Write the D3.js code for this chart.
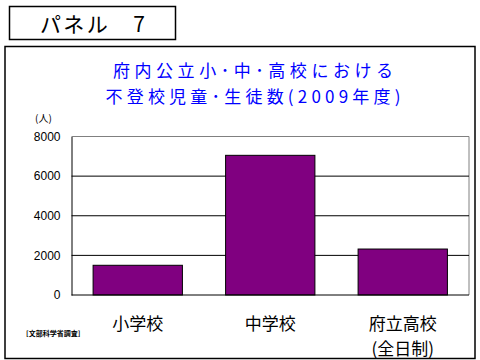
<!DOCTYPE html>
<html><head><meta charset="utf-8">
<script src="https://cdn.jsdelivr.net/npm/d3@7"></script>
<style>body{margin:0;background:#fff}svg{display:block}</style>
</head><body>
<script>
const categories = ["小学校", "中学校", "府立高校"];
const categorySub = ["", "", "(全日制)"];
const values = [1500, 7050, 2320];
const yTicks = [0, 2000, 4000, 6000, 8000];
const titleLines = ["府内公立小･中･高校における", "不登校児童･生徒数(2009年度)"];
const panelLabel = "パネル　7";
const unitLabel = "(人)";
const sourceLabel = "[文部科学省調査]";

const W = 480, H = 360;
const svg = d3.select("body").append("svg").attr("width", W).attr("height", H);
const font = "'Noto Sans CJK JP', sans-serif";

// panel label box
svg.append("rect").attr("x", 9.5).attr("y", 6.5).attr("width", 166).attr("height", 33)
  .attr("fill", "#fff").attr("stroke", "#000").attr("stroke-width", 1.5);
svg.append("text").attr("x", 40).attr("y", 23).attr("dominant-baseline", "central")
  .attr("font-family", font).attr("font-size", 21)
  .attr("textLength", 105).attr("lengthAdjust", "spacing").text(panelLabel);

// outer box
svg.append("rect").attr("x", 5).attr("y", 46.5).attr("width", 470).attr("height", 312)
  .attr("fill", "#fff").attr("stroke", "#000").attr("stroke-width", 1.5);

// title
svg.selectAll("text.title").data(titleLines).join("text").attr("class", "title")
  .attr("x", 253).attr("y", (d, i) => 69 + i * 26).attr("text-anchor", "middle")
  .attr("dominant-baseline", "central").attr("fill", "#0000ff")
  .attr("font-family", font).attr("font-size", 17)
  .attr("textLength", (d, i) => i === 0 ? 280 : 295).attr("lengthAdjust", "spacing")
  .text(d => d);

const m = {left: 71.5, right: 469, top: 136.5, bottom: 295};
const x = d3.scaleBand().domain(categories).range([m.left, m.right]).paddingInner(0.326).paddingOuter(0.163);
const y = d3.scaleLinear().domain([0, 8000]).range([m.bottom, m.top]);

// plot border (gray top/right)
svg.append("path").attr("d", `M${m.left},${m.top}H${m.right}V${m.bottom}`)
  .attr("fill", "none").attr("stroke", "#808080").attr("stroke-width", 1);

// gridlines
svg.selectAll("line.grid").data(yTicks.filter(t => t > 0 && t < 8000)).join("line")
  .attr("x1", m.left).attr("x2", m.right).attr("y1", d => y(d)).attr("y2", d => y(d))
  .attr("stroke", "#000").attr("stroke-width", 1);

// y axis
const yAxis = svg.append("g").attr("transform", `translate(${m.left},0)`)
  .call(d3.axisLeft(y).tickValues(yTicks).tickSize(0).tickPadding(11).tickFormat(d3.format("d")));
yAxis.select(".domain").attr("stroke", "#000");
yAxis.selectAll("text").attr("font-family", "Arial, 'Liberation Sans', sans-serif").attr("font-size", 12).attr("fill", "#000");

// bars
svg.selectAll("rect.bar").data(values).join("rect").attr("class", "bar")
  .attr("x", (d, i) => x(categories[i])).attr("width", x.bandwidth())
  .attr("y", d => y(d)).attr("height", d => y(0) - y(d))
  .attr("fill", "#800080").attr("stroke", "#000").attr("stroke-width", 1);

// x axis line
svg.append("line").attr("x1", m.left).attr("x2", m.right).attr("y1", m.bottom).attr("y2", m.bottom)
  .attr("stroke", "#000").attr("stroke-width", 1);

// category labels
svg.selectAll("text.cat").data(categories).join("text").attr("class", "cat")
  .attr("x", d => x(d) + x.bandwidth() / 2).attr("y", 322).attr("text-anchor", "middle")
  .attr("dominant-baseline", "central").attr("font-family", font).attr("font-size", 17).text(d => d);
svg.selectAll("text.catsub").data(categorySub.filter(s => s)).join("text").attr("class", "catsub")
  .attr("x", x(categories[2]) + x.bandwidth() / 2).attr("y", 347).attr("text-anchor", "middle")
  .attr("dominant-baseline", "central").attr("font-family", font).attr("font-size", 17).text(d => d);

// unit
svg.append("text").attr("x", 35).attr("y", 117).attr("dominant-baseline", "central")
  .attr("font-family", font).attr("font-size", 10).text(unitLabel);

// source
svg.append("text").attr("x", 26).attr("y", 333).attr("dominant-baseline", "central")
  .attr("font-family", font).attr("font-size", 7).attr("font-weight", "bold").text(sourceLabel);
</script>
</body></html>
